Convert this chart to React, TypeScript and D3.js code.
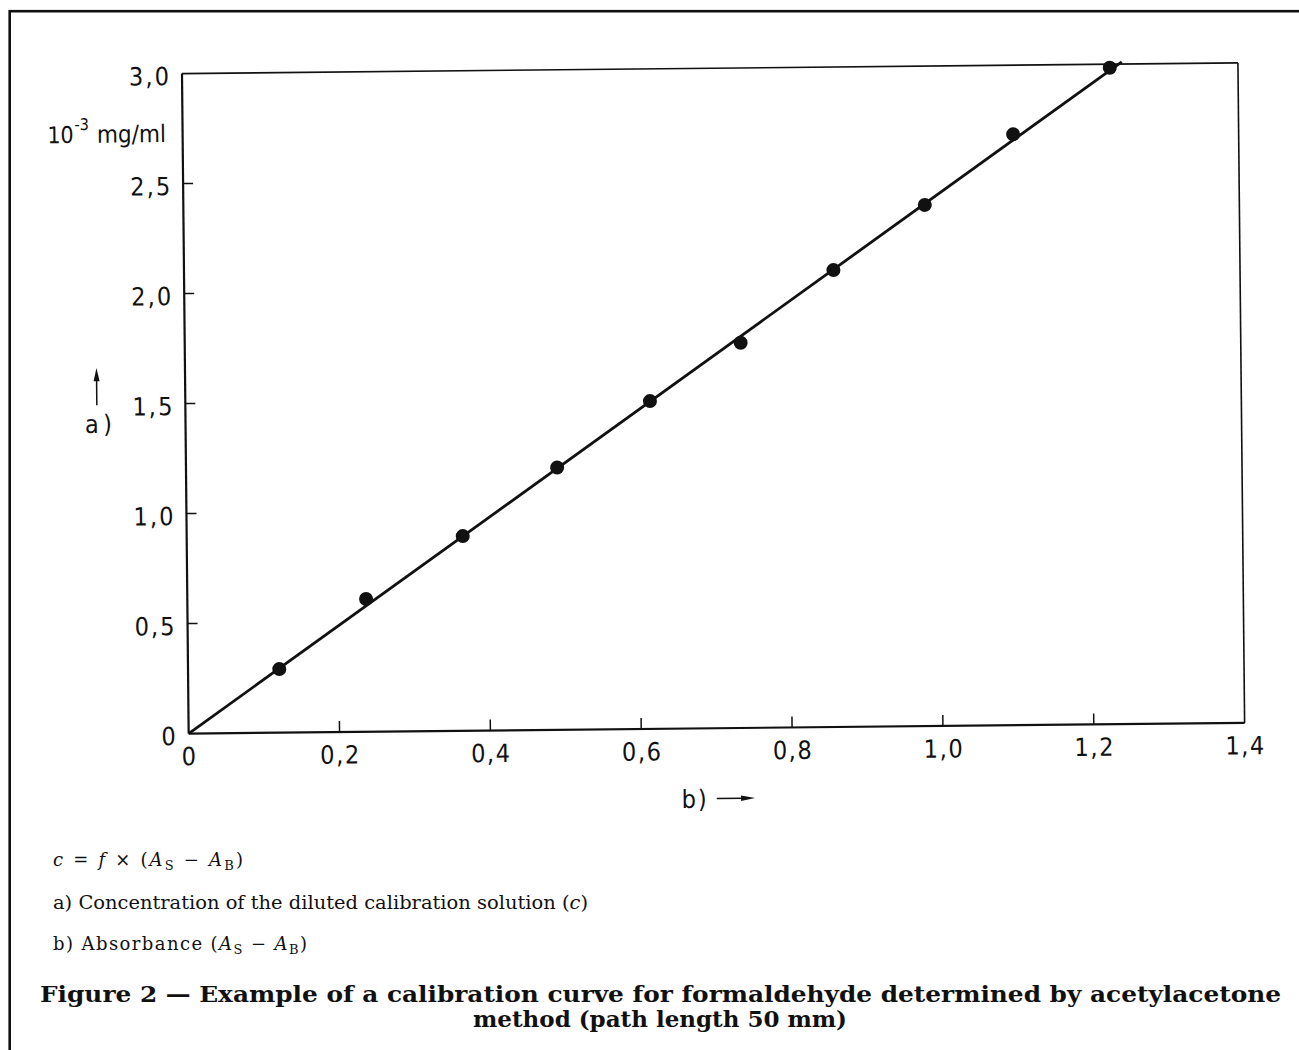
import React from "react";
import * as d3 from "d3";

// ---- data ----
const absorbance = [0.121, 0.237, 0.366, 0.492, 0.616, 0.737, 0.861, 0.983, 1.101, 1.230];
const concentration = [0.289, 0.604, 0.885, 1.192, 1.490, 1.751, 2.077, 2.369, 2.686, 2.984];
const fitX = [0, 1.246];
const fitY = [0, 3.01];
const xTickValues = [0, 0.2, 0.4, 0.6, 0.8, 1.0, 1.2, 1.4];
const xTickLabels = ["0", "0,2", "0,4", "0,6", "0,8", "1,0", "1,2", "1,4"];
const yTickValues = [0, 0.5, 1.0, 1.5, 2.0, 2.5, 3.0];
const yTickLabels = ["0", "0,5", "1,0", "1,5", "2,0", "2,5", "3,0"];

const W = 1299;
const H = 1050;
const L = 185.3;
const T = 68.25;
const PW = 1056;
const PH = 660;
const ROT = -0.58;
const CX = 713.3;
const CY = 398.25;

const INK = "#111";
const AX_FONT = "'Liberation Sans Narrow', 'DejaVu Sans Condensed', 'Liberation Sans', sans-serif";
const SERIF = "'DejaVu Serif', 'Liberation Serif', serif";

export default function App() {
  const x = d3.scaleLinear().domain([0, 1.4]).range([L, L + PW]);
  const y = d3.scaleLinear().domain([0, 3]).range([T + PH, T]);
  const fitPts: [number, number][] = fitX.map((v, i) => [x(v), y(fitY[i])]);
  const linePath = d3.line()(fitPts) || "";

  return (
    <svg
      width={W}
      height={H}
      viewBox={`0 0 ${W} ${H}`}
      style={{ position: "absolute", left: 0, top: 0, background: "#fff" }}
    >
      {/* outer figure frame */}
      <rect x={9.7} y={11.2} width={1400} height={1200} fill="none" stroke={INK} strokeWidth={2.6} />

      <g transform={`rotate(${ROT} ${CX} ${CY})`}>
        {/* plot box */}
        <line x1={L} y1={T} x2={L + PW} y2={T} stroke={INK} strokeWidth={1.6} />
        <line x1={L + PW} y1={T} x2={L + PW} y2={T + PH} stroke={INK} strokeWidth={1.6} />
        <line x1={L} y1={T} x2={L} y2={T + PH} stroke={INK} strokeWidth={2.2} />
        <line x1={L} y1={T + PH} x2={L + PW} y2={T + PH} stroke={INK} strokeWidth={2.2} />

        {/* x ticks (inward) */}
        {xTickValues
          .filter((v) => v > 0 && v < 1.4)
          .map((v) => (
            <line key={"xt" + v} x1={x(v)} x2={x(v)} y1={T + PH} y2={T + PH - 11} stroke={INK} strokeWidth={1.5} />
          ))}
        {/* y ticks (inward) */}
        {yTickValues
          .filter((v) => v > 0 && v < 3)
          .map((v) => (
            <line key={"yt" + v} x1={L} x2={L + 10} y1={y(v)} y2={y(v)} stroke={INK} strokeWidth={1.5} />
          ))}

        {/* x tick labels */}
        {xTickValues.map((v, i) => (
          <text
            key={"xl" + v}
            x={x(v)}
            y={T + PH + 31.5}
            textAnchor="middle"
            fontFamily={AX_FONT}
            fontSize={25}
            fill={INK}
            {...(xTickLabels[i].length > 1 ? { textLength: 39, lengthAdjust: "spacing" } : {})}
          >
            {xTickLabels[i]}
          </text>
        ))}
        {/* y tick labels */}
        {yTickValues.map((v, i) => (
          <text
            key={"yl" + v}
            x={L - 13}
            y={y(v) + 11.3}
            textAnchor="end"
            fontFamily={AX_FONT}
            fontSize={25}
            fill={INK}
            {...(yTickLabels[i].length > 1 ? { textLength: 40, lengthAdjust: "spacing" } : {})}
          >
            {yTickLabels[i]}
          </text>
        ))}

        {/* unit label */}
        <text x={50} y={136.5} fontFamily={AX_FONT} fontSize={23} fill={INK}>
          <tspan>10</tspan>
          <tspan dx={1} dy={-13} fontSize={16}>-3</tspan>
          <tspan x={99.6} dy={13} fontSize={24}>mg/ml</tspan>
        </text>

        {/* a) with up arrow */}
        <line x1={96.8} y1={399} x2={96.8} y2={372} stroke={INK} strokeWidth={1.5} />
        <path d="M93.8,375 L96.8,361.8 L99.8,375 Z" fill={INK} />
        <text x={84.6} y={426.6} fontFamily={AX_FONT} fontSize={25} fill={INK} textLength={27} lengthAdjust="spacing">
          a)
        </text>

        {/* b) with right arrow */}
        <text x={677.6} y={807.7} fontFamily={AX_FONT} fontSize={25} fill={INK} textLength={25} lengthAdjust="spacing">
          b)
        </text>
        <line x1={712.7} y1={798.5} x2={740} y2={798.5} stroke={INK} strokeWidth={1.5} />
        <path d="M737,795.8 L751,798.5 L737,801.2 Z" fill={INK} />

        {/* calibration line */}
        <path d={linePath} fill="none" stroke={INK} strokeWidth={2.8} />

        {/* data points */}
        {absorbance.map((a, i) => (
          <circle key={"p" + i} cx={x(a)} cy={y(concentration[i])} r={7} fill={INK} />
        ))}
      </g>

      {/* caption / notes */}
      <text x={53} y={866} fontFamily={SERIF} fontSize={18} fill={INK} textLength={190} lengthAdjust="spacing">
        <tspan fontStyle="italic">c</tspan>
        <tspan> = </tspan>
        <tspan fontStyle="italic">f</tspan>
        <tspan> × (</tspan>
        <tspan fontStyle="italic">A</tspan>
        <tspan fontSize={13} dy={4}>S</tspan>
        <tspan dy={-4}> − </tspan>
        <tspan fontStyle="italic">A</tspan>
        <tspan fontSize={13} dy={4}>B</tspan>
        <tspan dy={-4}>)</tspan>
      </text>
      <text x={53} y={909} fontFamily={SERIF} fontSize={18} fill={INK} textLength={535} lengthAdjust="spacingAndGlyphs">
        a) Concentration of the diluted calibration solution (<tspan fontStyle="italic">c</tspan>)
      </text>
      <text x={53} y={950} fontFamily={SERIF} fontSize={18} fill={INK} textLength={254} lengthAdjust="spacing">
        <tspan>b) Absorbance (</tspan>
        <tspan fontStyle="italic">A</tspan>
        <tspan fontSize={13} dy={4}>S</tspan>
        <tspan dy={-4}> − </tspan>
        <tspan fontStyle="italic">A</tspan>
        <tspan fontSize={13} dy={4}>B</tspan>
        <tspan dy={-4}>)</tspan>
      </text>
      <text x={40} y={1002} fontFamily={SERIF} fontWeight="bold" fontSize={23} fill={INK} textLength={1241} lengthAdjust="spacingAndGlyphs">
        Figure 2 — Example of a calibration curve for formaldehyde determined by acetylacetone
      </text>
      <text x={660} y={1027} textAnchor="middle" fontFamily={SERIF} fontWeight="bold" fontSize={23} fill={INK} textLength={374} lengthAdjust="spacingAndGlyphs">
        method (path length 50 mm)
      </text>
    </svg>
  );
}
